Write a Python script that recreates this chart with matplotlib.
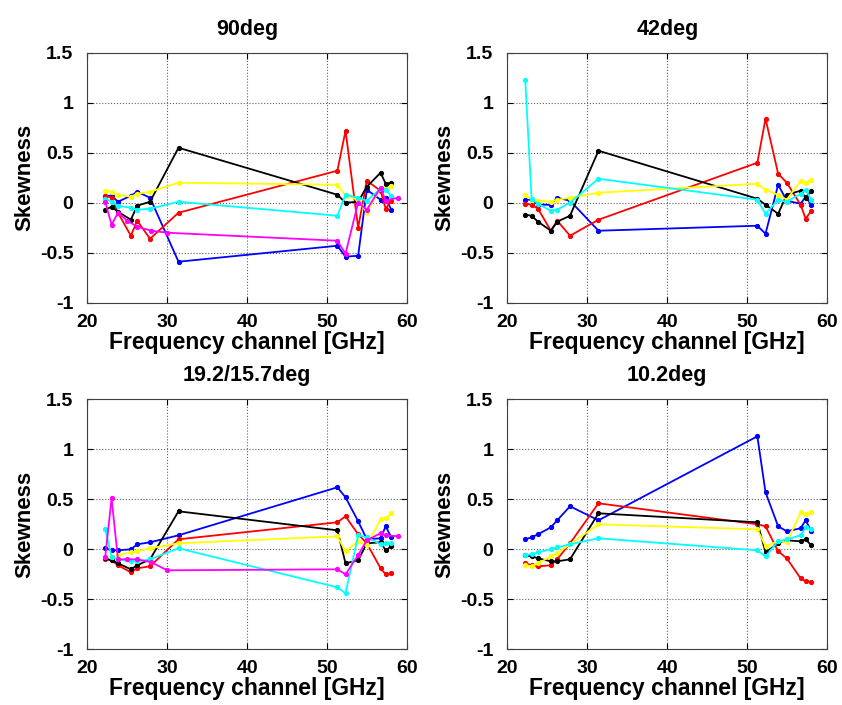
import numpy as np
import matplotlib
matplotlib.use('Agg')
import matplotlib.pyplot as plt

plt.rcParams['font.family'] = ['Liberation Sans', 'DejaVu Sans']
plt.rcParams['font.weight'] = 'bold'

# Frequency channels [GHz]
freq = [22.24, 23.04, 23.84, 25.44, 26.24, 27.84, 31.4,
        51.26, 52.28, 53.86, 54.94, 56.66, 57.3, 58.0]
freq_m = [22.234, 23.034, 23.834, 25.0, 26.234, 28.0, 30.0,
          51.248, 52.28, 53.848, 54.94, 56.66, 57.288, 58.8]

titles = ['90deg', '42deg', '19.2/15.7deg', '10.2deg']

# 90deg
black_90 = [-0.07, -0.04, -0.09, -0.17, -0.03, 0.01, 0.55, 0.08, 0.0, 0.01, 0.16, 0.30, 0.19, 0.20]
red_90 = [0.07, 0.05, -0.10, -0.33, -0.18, -0.36, -0.10, 0.32, 0.72, -0.25, 0.22, 0.12, -0.06, 0.02]
blue_90 = [0.07, 0.07, 0.01, 0.07, 0.11, 0.05, -0.59, -0.43, -0.54, -0.53, 0.13, 0.03, 0.05, -0.07]
yellow_90 = [0.12, 0.11, 0.08, 0.06, 0.09, 0.11, 0.20, 0.18, 0.07, 0.03, -0.10, 0.15, 0.14, 0.17]
cyan_90 = [0.04, 0.01, -0.03, -0.05, -0.07, -0.06, 0.01, -0.13, 0.08, 0.05, 0.02, 0.14, 0.13, 0.07]
magenta_90 = [0.01, -0.22, -0.10, -0.18, -0.24, -0.28, -0.30, -0.38, -0.51, 0.0, -0.07, 0.15, 0.02, 0.05]

# 42deg
black_42 = [-0.12, -0.13, -0.19, -0.28, -0.19, -0.13, 0.52, 0.04, -0.02, -0.11, 0.08, 0.12, 0.05, 0.12]
red_42 = [-0.01, -0.02, -0.06, -0.28, -0.18, -0.33, -0.17, 0.40, 0.84, 0.29, 0.20, -0.02, -0.16, -0.08]
blue_42 = [0.03, 0.03, -0.02, -0.02, 0.05, 0.02, -0.28, -0.23, -0.31, 0.18, 0.02, -0.01, 0.06, -0.02]
yellow_42 = [0.08, 0.03, 0.02, 0.01, 0.03, 0.05, 0.10, 0.19, 0.13, 0.08, 0.03, 0.22, 0.20, 0.23]
cyan_42 = [1.23, 0.04, -0.01, -0.08, -0.07, 0.0, 0.24, 0.03, -0.11, 0.03, 0.01, 0.09, 0.13, 0.03]

# 19.2/15.7deg
black_19 = [-0.09, -0.11, -0.14, -0.20, -0.16, -0.10, 0.38, 0.19, -0.14, -0.11, 0.06, 0.07, -0.01, 0.03]
red_19 = [-0.10, -0.11, -0.16, -0.23, -0.19, -0.17, 0.10, 0.27, 0.33, 0.15, 0.06, -0.19, -0.25, -0.24]
blue_19 = [0.01, -0.01, -0.01, 0.0, 0.05, 0.07, 0.14, 0.62, 0.52, 0.28, 0.10, 0.11, 0.23, 0.12]
yellow_19 = [-0.08, -0.08, -0.06, -0.03, -0.02, 0.01, 0.06, 0.13, -0.02, 0.08, 0.04, 0.30, 0.31, 0.36]
cyan_19 = [0.20, -0.08, -0.10, -0.12, -0.12, -0.10, 0.01, -0.38, -0.44, 0.14, 0.12, 0.05, 0.06, 0.06]
magenta_19 = [-0.08, 0.51, -0.10, -0.10, -0.10, -0.13, -0.21, -0.20, -0.25, -0.06, 0.09, 0.16, 0.14, 0.13]

# 10.2deg
black_10 = [-0.06, -0.07, -0.09, -0.12, -0.12, -0.10, 0.36, 0.27, -0.03, 0.06, 0.09, 0.08, 0.10, 0.04]
red_10 = [-0.14, -0.16, -0.17, -0.16, -0.10, 0.06, 0.46, 0.25, 0.23, -0.02, -0.09, -0.29, -0.32, -0.33]
blue_10 = [0.10, 0.12, 0.15, 0.22, 0.29, 0.43, 0.29, 1.13, 0.57, 0.23, 0.18, 0.21, 0.29, 0.18]
yellow_10 = [-0.16, -0.17, -0.14, -0.07, -0.04, 0.05, 0.25, 0.20, 0.03, 0.08, 0.07, 0.37, 0.35, 0.37]
cyan_10 = [-0.06, -0.05, -0.03, 0.0, 0.02, 0.05, 0.11, -0.01, -0.07, 0.08, 0.10, 0.14, 0.22, 0.20]

# matlab style pure colours
K, R, B, Y, C, M = '#000000', '#ff0000', '#0000ff', '#ffff00', '#00ffff', '#ff00ff'

panels = [
    [(freq, blue_90, B), (freq, red_90, R), (freq, black_90, K),
     (freq, yellow_90, Y), (freq, cyan_90, C), (freq_m, magenta_90, M)],
    [(freq, blue_42, B), (freq, red_42, R), (freq, black_42, K),
     (freq, yellow_42, Y), (freq, cyan_42, C)],
    [(freq, blue_19, B), (freq, red_19, R), (freq, black_19, K),
     (freq, yellow_19, Y), (freq, cyan_19, C), (freq_m, magenta_19, M)],
    [(freq, blue_10, B), (freq, red_10, R), (freq, black_10, K),
     (freq, yellow_10, Y), (freq, cyan_10, C)],
]

fig = plt.figure(figsize=(8.42, 7.05), dpi=100)
lefts = [0.1037, 0.6025, 0.1037, 0.6025]
bottoms = [0.5706, 0.5706, 0.0790, 0.0790]

for i in range(4):
    ax = fig.add_axes([lefts[i], bottoms[i], 0.380, 0.3546])
    for x, y, c in panels[i]:
        ax.plot(x, y, color=c, marker='.', markersize=5.5, linewidth=1.3)
    ax.set_xlim(20, 60)
    ax.set_ylim(-1, 1.5)
    ax.set_xticks([20, 30, 40, 50, 60])
    ax.set_yticks([-1, -0.5, 0, 0.5, 1, 1.5])
    ax.set_yticklabels(['-1', '-0.5', '0', '0.5', '1', '1.5'])
    ax.grid(True, linestyle=':', color='#606060', linewidth=0.8)
    ax.tick_params(direction='in', labelsize=14, length=4, top=True, right=True)
    ax.tick_params(axis='x', pad=8)
    ax.tick_params(axis='y', pad=10)
    for lab in ax.get_xticklabels() + ax.get_yticklabels():
        lab.set_fontweight('bold')
    for sp in ax.spines.values():
        sp.set_color('#404040')
    ax.set_xlabel('Frequency channel [GHz]', fontsize=16.5, fontweight='bold', labelpad=0)
    ax.set_ylabel('Skewness', fontsize=16, fontweight='bold', labelpad=3)
    ax.set_title(titles[i], fontsize=15.5, fontweight='bold', pad=13)

plt.savefig('out.png', dpi=100)
